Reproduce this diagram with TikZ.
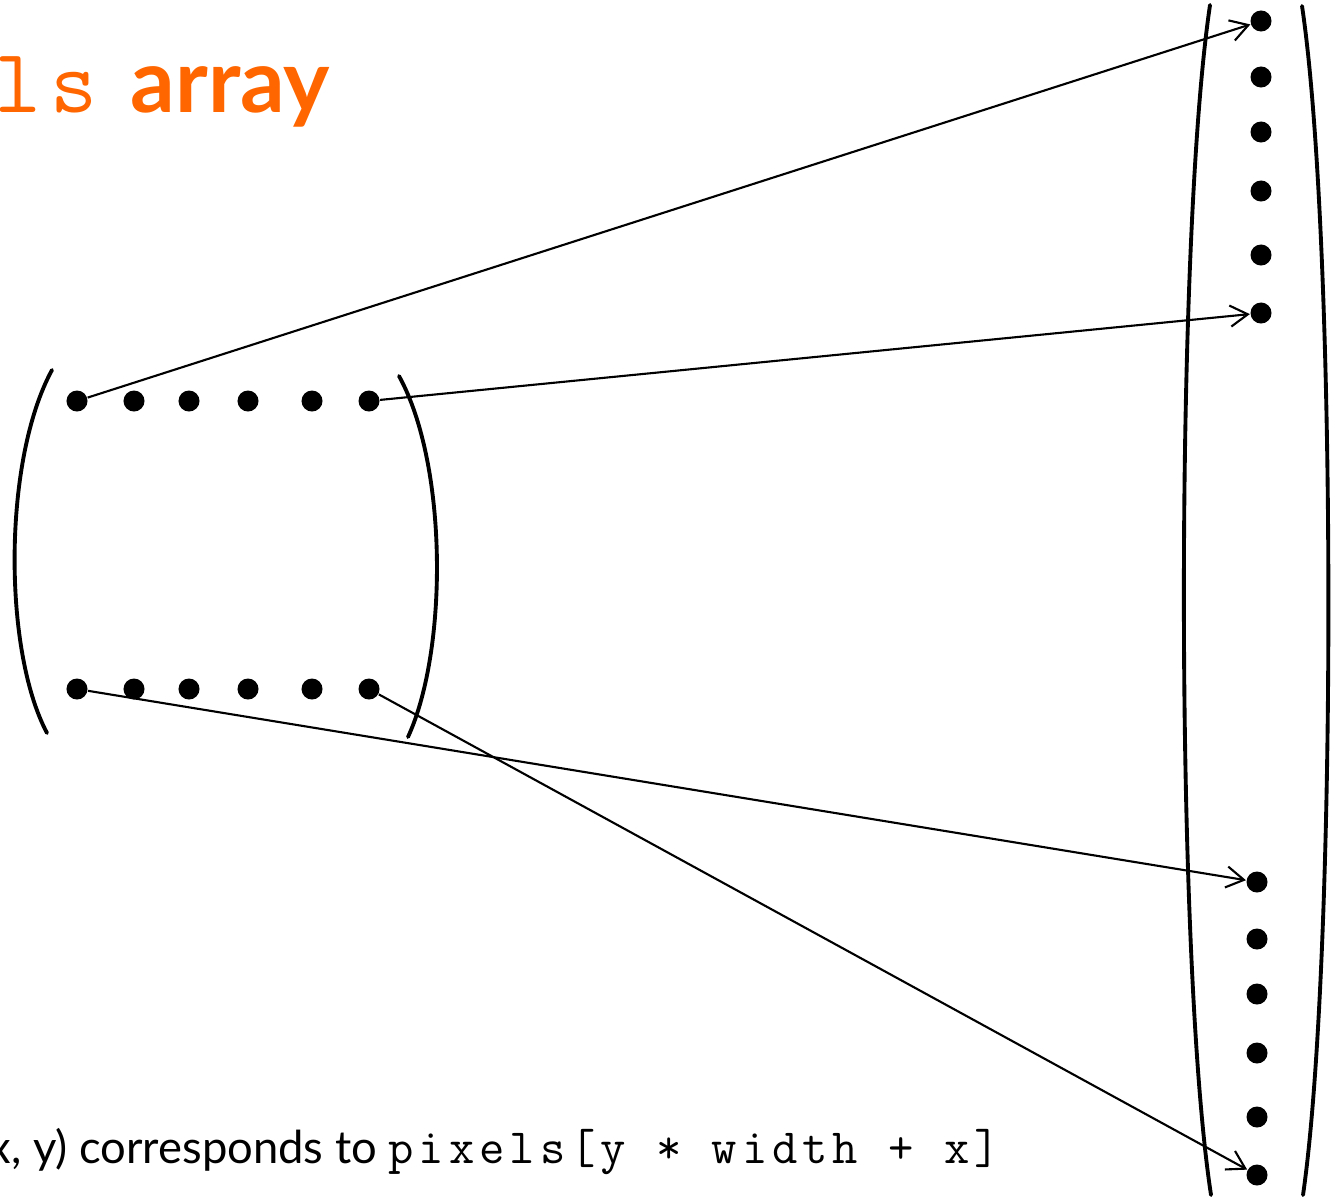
\documentclass[tikz,border=0pt]{standalone}
\usepackage{fontspec}
\setmainfont{Lato}
\setmonofont{Latin Modern Mono}[LetterSpace=10]
\usetikzlibrary{arrows.meta}
\definecolor{titleorange}{RGB}{255,102,0}
\tikzset{
  pt/.style={circle, fill=black, inner sep=0pt, minimum size=0.21cm},
  paren/.style={line width=1.1pt, line cap=round},
  link/.style={line width=0.6pt, -{Straight Barb[length=5pt,width=6pt]}}
}
\begin{document}
\begin{tikzpicture}[x=0.01cm, y=-0.01cm, line join=round]
\useasboundingbox (0,0) rectangle (1340,1200);
% title and caption
\node[anchor=base west, inner sep=0pt, text=titleorange, font=\fontsize{26}{28}\selectfont] (title) at (-6,112) {\texttt{ls} {\fontsize{25}{28}\selectfont\textbf{array}}};
\node[anchor=base west, inner sep=0pt, font=\fontsize{12.9}{16}\selectfont] (caption) at (-12,1163) {x, y) corresponds to {\fontsize{14}{16}\selectfont\texttt{pixels[y * width + x]}}};
% 2D image
\foreach \i/\x in {1/77,2/134,3/189,4/248,5/312,6/369} {
  \node[pt] (t\i) at (\x,401) {};
  \node[pt] (b\i) at (\x,689) {};
}
\draw[paren] (52,370) .. controls (3,460) and (3,650) .. (47,733);
\draw[paren] (399,376) .. controls (448,465) and (448,650) .. (408,737);
% 1D array
\foreach \i/\y in {1/21,2/77,3/132,4/191,5/255,6/313} \node[pt] (p\i) at (1261,\y) {};
\foreach \i/\y in {1/882,2/939,3/994,4/1053,5/1117,6/1175} \node[pt] (q\i) at (1257,\y) {};
\draw[paren] (1210,5) .. controls (1175,240) and (1175,960) .. (1211,1195);
\draw[paren] (1302,6) .. controls (1337,240) and (1337,960) .. (1303,1195);
% mapping
\draw[link] (t1) -- (p1);
\draw[link] (t6) -- (p6);
\draw[link] (b1) -- (q1);
\draw[link] (b6) -- (q6);
\end{tikzpicture}
\end{document}
